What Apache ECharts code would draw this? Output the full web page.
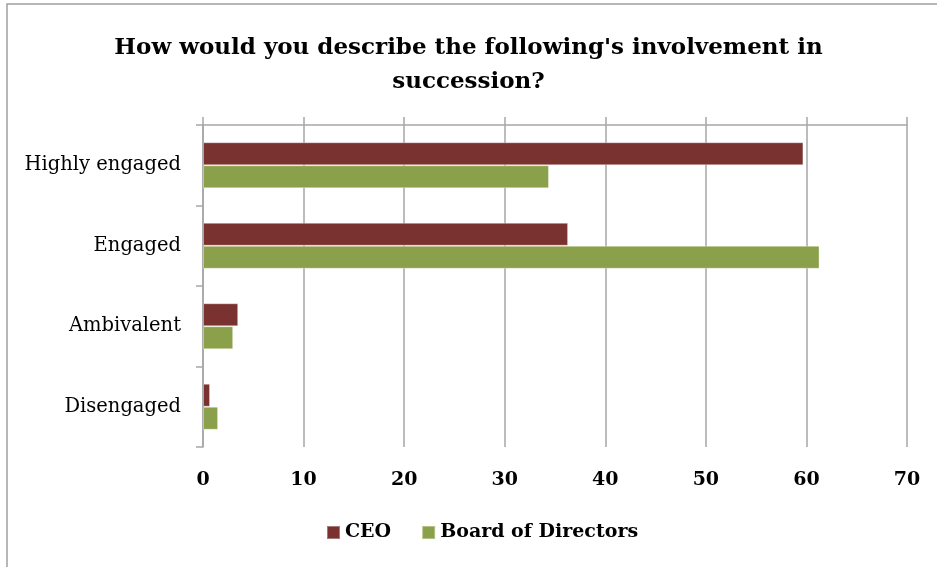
<!DOCTYPE html>
<html>
<head>
<meta charset="utf-8">
<script src="https://cdn.jsdelivr.net/npm/echarts@6/dist/echarts.min.js"></script>
<style>
  html, body { margin: 0; padding: 0; background: #fff; }
  #chart { width: 937px; height: 567px; }
</style>
</head>
<body>
<div id="chart"></div>
<script>
// Survey responses (percent of respondents)
const categories = ['Highly engaged', 'Engaged', 'Ambivalent', 'Disengaged'];
const ceoValues = [59.7, 36.3, 3.5, 0.7];
const boardValues = [34.4, 61.3, 3.0, 1.5];
const seriesNames = ['CEO', 'Board of Directors'];
const valueTicks = [0, 10, 20, 30, 40, 50, 60, 70];

const serif = '"DejaVu Serif", "Liberation Serif", serif';
const gridColor = '#a6a6a6';

const chart = echarts.init(document.getElementById('chart'), null, { renderer: 'canvas' });

chart.setOption({
  backgroundColor: '#fff',
  animation: false,
  graphic: [{
    type: 'rect',
    shape: { x: 7, y: 4, width: 940, height: 580 },
    style: { fill: 'none', stroke: '#a0a0a0', lineWidth: 1.5 },
    silent: true
  }],
  title: {
    text: "How would you describe the following's involvement in\nsuccession?",
    left: 'center',
    top: 26,
    textStyle: {
      fontFamily: serif,
      fontWeight: 'bold',
      fontSize: 23,
      lineHeight: 34,
      color: '#000'
    }
  },
  legend: {
    data: seriesNames,
    bottom: 20,
    left: 321,
    itemWidth: 13,
    itemHeight: 13,
    itemGap: 30,
    icon: 'rect',
    textStyle: {
      fontFamily: serif,
      fontWeight: 'bold',
      fontSize: 19,
      color: '#000'
    }
  },
  grid: { left: 203, right: 30, top: 125, bottom: 120 },
  xAxis: [{
    type: 'value',
    position: 'bottom',
    min: valueTicks[0],
    max: valueTicks[valueTicks.length - 1],
    interval: 10,
    axisLine: { show: false },
    axisTick: { show: false },
    splitLine: { show: true, lineStyle: { color: gridColor, width: 1.5 } },
    axisLabel: {
      margin: 24,
      fontFamily: serif,
      fontWeight: 'bold',
      fontSize: 19,
      color: '#000'
    }
  }, {
    type: 'value',
    position: 'top',
    min: valueTicks[0],
    max: valueTicks[valueTicks.length - 1],
    interval: 10,
    axisLine: { show: true, lineStyle: { color: gridColor, width: 1.5 } },
    axisTick: { show: true, inside: false, length: 8, lineStyle: { color: gridColor, width: 1.5 } },
    splitLine: { show: false },
    axisLabel: { show: false }
  }],
  yAxis: {
    type: 'category',
    data: categories,
    inverse: true,
    axisLine: { show: true, lineStyle: { color: gridColor, width: 1.5 } },
    axisTick: { show: true, length: 7, lineStyle: { color: gridColor, width: 1.5 } },
    axisLabel: {
      margin: 22,
      fontFamily: serif,
      fontSize: 19.5,
      color: '#000'
    }
  },
  series: [{
    name: seriesNames[0],
    type: 'bar',
    data: ceoValues,
    barWidth: 23,
    barGap: '0%',
    itemStyle: { color: '#7a3230', borderColor: 'rgba(255,255,255,0.35)', borderWidth: 1 }
  }, {
    name: seriesNames[1],
    type: 'bar',
    data: boardValues,
    barWidth: 23,
    barGap: '0%',
    itemStyle: { color: '#8ba04a', borderColor: 'rgba(255,255,255,0.35)', borderWidth: 1 }
  }]
});
</script>
</body>
</html>
